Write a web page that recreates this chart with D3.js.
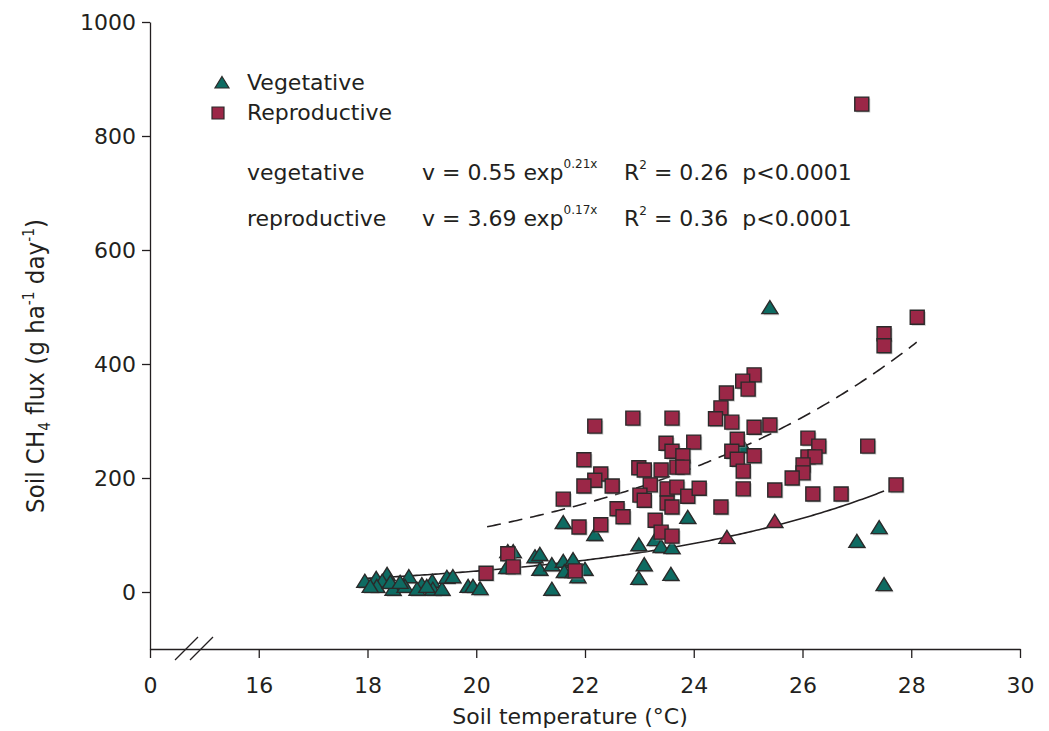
<!DOCTYPE html>
<html lang="en">
<head>
<meta charset="UTF-8">
<title>Soil CH4 flux vs soil temperature</title>
<script src="https://d3js.org/d3.v7.min.js"></script>
<style>
  body { margin: 0; background: #fff; }
  text { font-family: "DejaVu Sans", sans-serif; fill: #231f20; white-space: pre; }
</style>
</head>
<body>
<div id="chart"></div>
<script>
// temperature (°C) and CH4 flux values
const vegTemp = [17.95, 18.16, 18.36, 18.27, 18.17, 18.47, 18.76, 18.69, 19.00, 19.19, 19.20, 19.37, 19.46, 19.57,
  19.85, 19.94, 20.07, 18.05, 18.42, 18.91, 19.09, 18.60,
  20.58, 20.56, 20.68, 21.08, 21.17, 21.17, 21.39, 21.60, 21.62, 21.78, 21.78, 22.00, 21.87, 21.39,
  21.60, 22.18, 22.99, 23.09, 22.99, 23.29, 23.40, 23.60, 23.58, 23.89, 24.91, 25.40, 27.00, 27.41, 27.50];
const vegFlux = [18, 23, 30, 18, 9, 4, 26, 9, 12, 18, 4, 4, 25, 26,
  9, 9, 5, 9, 16, 4, 9, 16,
  70, 42, 70, 61, 65, 39, 47, 53, 35, 56, 35, 39, 26, 4,
  121, 100, 82, 47, 23, 91, 79, 77, 30, 130, 254, 498, 88, 112, 12];

const repTemp = [27.09, 28.11, 27.50, 27.50,
  25.11, 24.90, 25.00, 24.60, 24.50, 24.40, 24.70, 25.11, 25.40,
  22.88, 22.18, 23.60,
  23.49, 24.00, 23.60, 23.80, 24.80, 24.70, 24.80, 25.11, 24.91, 24.91, 25.49,
  26.10, 26.30, 26.10, 26.23, 26.01, 26.01, 25.81, 26.19, 26.71, 27.20, 27.72,
  22.99, 23.09, 23.40, 23.69, 23.80,
  21.98, 22.29, 22.18, 21.98, 22.50, 21.60,
  23.20, 23.51, 23.69, 23.89, 24.10, 23.01, 23.09, 23.51, 23.60, 24.50,
  22.59, 22.70, 21.89, 22.29, 23.29, 23.40, 23.60,
  20.58, 20.68, 20.18, 21.82];
const repFlux = [856, 482, 453, 432,
  381, 370, 356, 349, 323, 304, 298, 289, 293,
  305, 291, 305,
  261, 263, 247, 239, 268, 247, 233, 239, 212, 181, 179,
  270, 256, 237, 237, 223, 209, 200, 172, 172, 256, 188,
  218, 214, 214, 219, 219,
  232, 207, 196, 186, 186, 163,
  188, 181, 184, 168, 182, 170, 161, 156, 149, 149,
  146, 132, 114, 118, 126, 105, 98,
  67, 44, 33, 37];

// two reproductive points plotted with a triangle marker
const repTriTemp = [24.61, 25.49];
const repTriFlux = [95, 123];

// fitted curves v = a * exp(b * x)
const vegFit = [0.55, 0.21];
const repFit = [3.69, 0.17];
const vegFitRange = [17.9, 27.5];
const repFitRange = [20.2, 28.1];

const yTicks = [0, 200, 400, 600, 800, 1000];
const xTicks = [14, 16, 18, 20, 22, 24, 26, 28, 30];
const xTickLabels = ["0", "16", "18", "20", "22", "24", "26", "28", "30"];

const teal = "#0e6b62", crimson = "#9b2747", ink = "#231f20";

const width = 1049, height = 731;
const svg = d3.select("#chart").append("svg")
  .attr("width", width).attr("height", height);

const x = d3.scaleLinear().domain([14, 30]).range([150, 1020]);
const y = d3.scaleLinear().domain([-100, 1000]).range([649, 22]);

// axes
const yAxis = svg.append("g")
  .attr("transform", "translate(150,0)")
  .call(d3.axisLeft(y).tickValues(yTicks).tickSize(8).tickSizeOuter(0).tickPadding(6)
    .tickFormat(d3.format("d")));
const xAxis = svg.append("g")
  .attr("transform", "translate(0,649)")
  .call(d3.axisBottom(x).tickValues(xTicks).tickSize(9).tickSizeOuter(0).tickPadding(19)
    .tickFormat((d, i) => xTickLabels[i]));
[yAxis, xAxis].forEach(g => {
  g.selectAll("path, line").attr("stroke", ink).attr("stroke-width", 1.3);
  g.selectAll("text").attr("font-size", 22).attr("fill", ink)
    .attr("font-family", "DejaVu Sans, sans-serif");
});

// axis break marks
svg.append("g").selectAll("line").data([0, 15]).join("line")
  .attr("x1", d => 175 + d).attr("y1", 660)
  .attr("x2", d => 198 + d).attr("y2", 637)
  .attr("stroke", ink).attr("stroke-width", 1.3);

// fitted curves
const line = d3.line().x(d => x(d[0])).y(d => y(d[1]));
function fitPoints(fit, range) {
  return d3.range(range[0], range[1] + 0.001, 0.05).map(t => [t, fit[0] * Math.exp(fit[1] * t)]);
}
svg.append("path").datum(fitPoints(vegFit, vegFitRange))
  .attr("d", line).attr("fill", "none").attr("stroke", ink).attr("stroke-width", 1.6);
svg.append("path").datum(fitPoints(repFit, repFitRange))
  .attr("d", line).attr("fill", "none").attr("stroke", ink).attr("stroke-width", 1.6)
  .attr("stroke-dasharray", "14,8");

// markers
const triPath = "M0,-7.5L8,5.5L-8,5.5Z";
const sqPath = "M-7,-7H7V7H-7Z";
function drawMarks(temps, fluxes, path, fill) {
  const pts = temps.map((t, i) => [t, fluxes[i]]);
  const g = svg.append("g");
  g.selectAll("path.shadow").data(pts).join("path")
    .attr("class", "shadow").attr("d", path)
    .attr("transform", d => `translate(${x(d[0]) + 1.5},${y(d[1]) + 1.5})`)
    .attr("fill", "#9a9a9a").attr("opacity", 0.55);
  g.selectAll("path.mark").data(pts).join("path")
    .attr("class", "mark").attr("d", path)
    .attr("transform", d => `translate(${x(d[0])},${y(d[1])})`)
    .attr("fill", fill).attr("stroke", "#2a2a2a").attr("stroke-width", 1.4);
}
drawMarks(vegTemp, vegFlux, triPath, teal);
drawMarks(repTemp, repFlux, sqPath, crimson);
drawMarks(repTriTemp, repTriFlux, triPath, crimson);

// legend
const legend = svg.append("g");
legend.append("path").attr("d", "M0,-6.5L7,5L-7,5Z").attr("transform", "translate(222,83)")
  .attr("fill", teal).attr("stroke", "#2a2a2a").attr("stroke-width", 1.2);
legend.append("path").attr("d", "M-6,-6H6V6H-6Z").attr("transform", "translate(218,113)")
  .attr("fill", crimson).attr("stroke", "#2a2a2a").attr("stroke-width", 1.2);
legend.append("text").attr("x", 247).attr("y", 90).attr("font-size", 22).text("Vegetative");
legend.append("text").attr("x", 247).attr("y", 120).attr("font-size", 22).text("Reproductive");

function equation(yPos, name, a, b, r2) {
  legend.append("text").attr("x", 247).attr("y", yPos).attr("font-size", 22).text(name);
  const eq = legend.append("text").attr("x", 422).attr("y", yPos).attr("font-size", 22);
  eq.append("tspan").text(`v = ${a} exp`);
  eq.append("tspan").attr("font-size", 12).attr("dy", -12).text(`${b}x`);
  const r = legend.append("text").attr("x", 624).attr("y", yPos).attr("font-size", 22);
  r.append("tspan").text("R");
  r.append("tspan").attr("font-size", 12).attr("dy", -11).text("2");
  r.append("tspan").attr("dy", 11).text(` = ${r2}  p<0.0001`);
}
equation(180, "vegetative", "0.55", "0.21", "0.26");
equation(226, "reproductive", "3.69", "0.17", "0.36");

// axis titles
svg.append("text").attr("x", 570).attr("y", 724).attr("text-anchor", "middle")
  .attr("font-size", 22).text("Soil temperature (°C)");
const yl = svg.append("text")
  .attr("transform", "translate(44,366) rotate(-90) scale(0.92,1)")
  .attr("text-anchor", "middle").attr("font-size", 25);
yl.append("tspan").text("Soil CH");
yl.append("tspan").attr("font-size", 15).attr("dy", 6).text("4");
yl.append("tspan").attr("dy", -6).text(" flux (g ha");
yl.append("tspan").attr("font-size", 15).attr("dy", -10).text("-1");
yl.append("tspan").attr("dy", 10).text(" day");
yl.append("tspan").attr("font-size", 15).attr("dy", -10).text("-1");
yl.append("tspan").attr("dy", 10).text(")");
</script>
</body>
</html>
